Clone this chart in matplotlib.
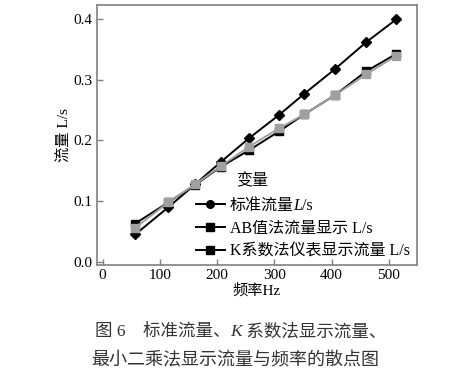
import matplotlib
matplotlib.use('Agg')
import matplotlib.pyplot as plt
from matplotlib.lines import Line2D

# Frequency (Hz) and flow (L/s)
freq = [57, 115, 162, 207, 256, 308, 352, 406, 460, 513]
std_flow = [0.045, 0.090, 0.128, 0.165, 0.204, 0.242, 0.277, 0.318, 0.362, 0.400]
ab_flow = [0.063, 0.098, 0.127, 0.157, 0.184, 0.215, 0.243, 0.275, 0.314, 0.343]
k_flow = [0.056, 0.098, 0.128, 0.158, 0.190, 0.220, 0.243, 0.275, 0.309, 0.340]

xticks = [0, 100, 200, 300, 400, 500]
yticks = [0.0, 0.1, 0.2, 0.3, 0.4]

legend_title = '变量'
legend_labels = ['标准流量', 'AB值法流量显示 L/s', 'K系数法仪表显示流量 L/s']

FONTS = ['Liberation Serif', 'Noto Sans CJK SC']
plt.rcParams['font.family'] = FONTS

SPINE = '#808080'
GREY = '#a0a0a0'
CAPTION = '#333333'
LEG_FS = 11.5

fig = plt.figure(figsize=(4.68, 3.73), dpi=100)
ax = fig.add_axes([0.207, 0.2895, 0.684, 0.697])

ax.plot(freq, std_flow, color='black', lw=1.4, marker='D', ms=5.5, zorder=3)
ax.plot(freq, ab_flow, color='black', lw=1.4, marker='s', ms=5.5, zorder=3)
ax.plot(freq, k_flow, color=GREY, lw=1.4, marker='s', ms=5.5, zorder=4)

ax.set_xlim(-10, 549)
ax.set_ylim(-0.0055, 0.4235)
ax.set_xticks(xticks)
ax.set_yticks(yticks)
ax.set_yticklabels([f'{v:.1f}' for v in yticks])
ax.tick_params(direction='in', length=4, width=1, color=SPINE, labelsize=11, pad=3)
for s in ax.spines.values():
    s.set_color(SPINE)
    s.set_linewidth(1.2)

ax.set_xlabel('频率Hz', fontsize=11, labelpad=1)
ax.set_ylabel('流量 L/s', fontsize=11, labelpad=2)

handles = [
    Line2D([], [], color='black', lw=1.4, marker='o', ms=5.5),
    Line2D([], [], color='black', lw=1.4, marker='s', ms=5.5),
    Line2D([], [], color='black', lw=1.4, marker='s', ms=5.5),
]
leg = ax.legend(handles, legend_labels, loc='upper left',
                bbox_to_anchor=(196 / 468, 1 - 198 / 373), bbox_transform=fig.transFigure,
                frameon=False, fontsize=LEG_FS, handlelength=1.8, handletextpad=0.3,
                labelspacing=0.42, borderpad=0, borderaxespad=0)
fig.text(252 / 468, 1 - 181 / 373, legend_title, ha='center', va='center', fontsize=LEG_FS)

# italic L/s after the first legend entry (drawn after the legend so it is placed)
t0 = leg.get_texts()[0]
tl = ax.annotate('L', xy=(1, 0), xycoords=t0, va='bottom', ha='left', zorder=10,
                 fontsize=LEG_FS, style='italic', annotation_clip=False)
ax.annotate('/s', xy=(1, 0), xycoords=tl, va='bottom', ha='left', zorder=11,
            fontsize=LEG_FS, annotation_clip=False)

# caption, line 1 with an italic K
c1 = fig.text(95 / 468, 0.11, '图 6　标准流量、', ha='left', va='center',
              fontsize=12.6, color=CAPTION)
ck = ax.annotate('K', xy=(1, 0), xycoords=c1, va='bottom', ha='left', fontsize=12.6,
                 style='italic', color=CAPTION, annotation_clip=False, zorder=10)
ax.annotate(' 系数法显示流量、', xy=(1, 0), xycoords=ck, va='bottom', ha='left',
            fontsize=12.6, color=CAPTION, annotation_clip=False, zorder=11)
fig.text(0.502, 0.032, '最小二乘法显示流量与频率的散点图', ha='center', va='center',
         fontsize=13, color=CAPTION)

fig.savefig('out.png', dpi=100)
